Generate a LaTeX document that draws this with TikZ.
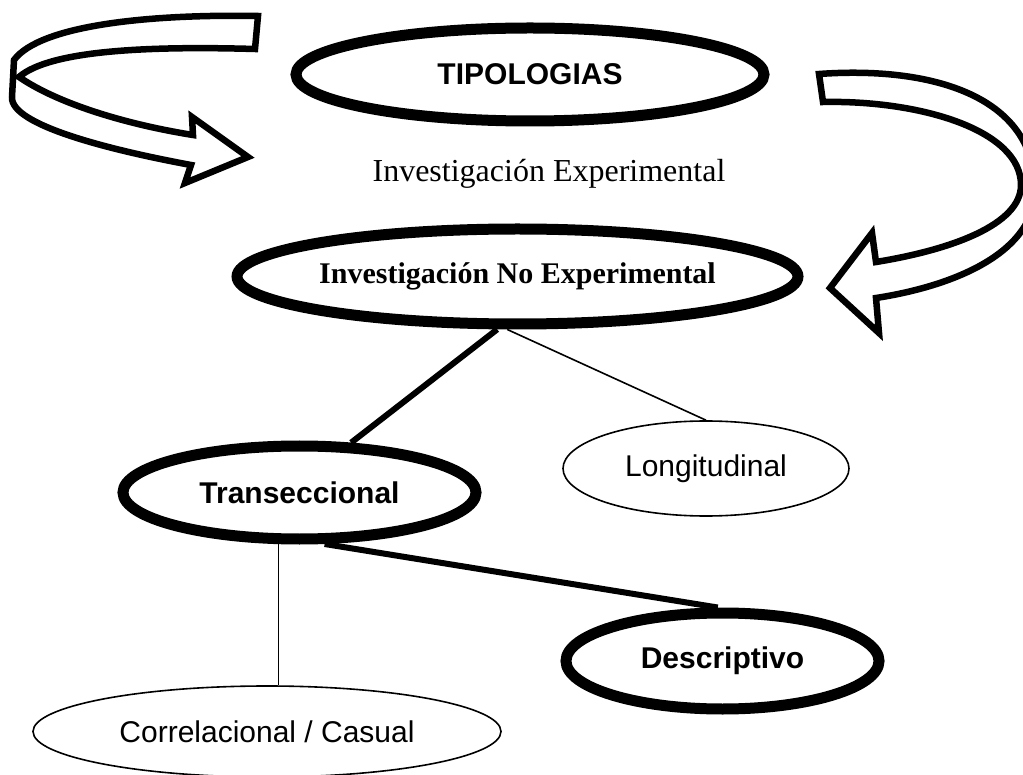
\documentclass[tikz,border=0pt]{standalone}
\usepackage{fontspec}
\usepackage{tikz}
\setmainfont{Liberation Serif}
\newfontfamily\arialfont{Liberation Sans}
\usetikzlibrary{shapes.geometric}
\newcommand{\lTipologias}{TIPOLOGIAS}
\newcommand{\lInvExp}{Investigación Experimental}
\newcommand{\lInvNoExp}{Investigación No Experimental}
\newcommand{\lTrans}{Transeccional}
\newcommand{\lLongit}{Longitudinal}
\newcommand{\lDesc}{Descriptivo}
\newcommand{\lCorrel}{Correlacional / Casual}

\begin{document}
\begin{tikzpicture} [
        x=1pt, y=-1pt,
        bold oval/.style={draw, ellipse, line width=11pt, inner sep=0pt},
        thin oval/.style={draw, ellipse, line width=1.6pt, inner sep=0pt},
        label serif/.style={font=\fontsize{32}{36}\selectfont},
        label serif bold/.style={font=\fontsize{30}{34}\selectfont\bfseries},
        label sans/.style={font=\fontsize{30}{34}\selectfont\arialfont},
        label sans bold/.style={font=\fontsize{30}{34}\selectfont\arialfont\bfseries},
        ribbon/.style={draw, line width=6.5pt, fill=white},
        bold link/.style={line width=6pt},
        thin link/.style={line width=1.6pt}
    ]
    \clip (0,0) rectangle (1023,775);

    \path (530,74.5) node[bold oval, minimum width=468pt, minimum height=93pt, label sans bold] (tipologias) {\lTipologias};
    \path (549,174) node[label serif] (inv exp) {\lInvExp};
    \path (517.5,276.5) node[bold oval, minimum width=489pt, minimum height=95pt, label serif bold] (inv no exp) {\lInvNoExp};
    \path (299.5,492.5) node[bold oval, minimum width=353pt, minimum height=93pt, label sans bold] (trans) {\lTrans};
    \path (706,468.5) node[thin oval, minimum width=286pt, minimum height=95pt, label sans] (longit) {\lLongit};
    \path (722.5,661) node[bold oval, minimum width=313pt, minimum height=96pt, label sans bold] (desc) {\lDesc};
    \path (267,731.5) node[thin oval, minimum width=468pt, minimum height=91pt, label sans] (correl) {\lCorrel};

    \draw[bold link] (inv no exp.249) -- (trans.44);
    \draw[thin link] (inv no exp.259) -- (longit.north);
    \draw[bold link] (trans.296) -- (desc.95);
    \draw[thin link] (trans.248) -- (trans.248 |- correl.north);

    % curved arrows
    \draw[ribbon] (258,16) -- (255,49) .. controls (150,46) and (50,50) .. (19,77)
        .. controls (60,105) and (130,125) .. (193,135) -- (192,117) -- (248,157) -- (185,183) -- (191,165)
        .. controls (110,150) and (10,125) .. (12,97) -- (14,60)
        .. controls (40,25) and (150,14) .. (258,16) -- cycle;
    \draw[ribbon] (819,74) .. controls (930,66) and (1035,95) .. (1035,190)
        .. controls (1035,250) and (960,285) .. (876,298) -- (879,333) -- (830,288) -- (872,233) -- (876,262)
        .. controls (950,250) and (1021,225) .. (1021,185)
        .. controls (1021,130) and (920,100) .. (823,102) -- cycle;

\end{tikzpicture}
\end{document}
